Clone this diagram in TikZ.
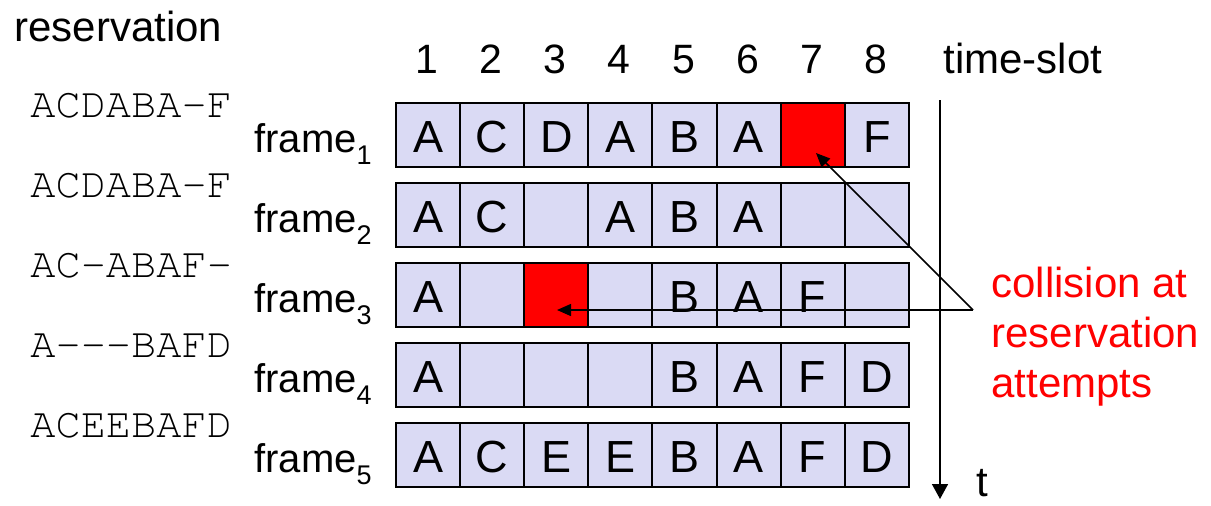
\documentclass[tikz,border=0pt]{standalone}
\usepackage[T1,TU]{fontenc}
\usepackage{fontspec}
\setmainfont{Liberation Sans}
\usetikzlibrary{arrows.meta}
\definecolor{cellfill}{RGB}{218,218,244}
\newcommand{\courierfont}{\fontencoding{T1}\fontfamily{pcr}\selectfont}
\newcommand{\fsub}[1]{\raisebox{-6pt}{\fontsize{13.5pt}{14pt}\selectfont #1}}
\begin{document}
\begin{tikzpicture}[x=0.5pt,y=-0.5pt,
  cell/.style={draw, line width=1pt, fill=cellfill, minimum width=32.05pt, minimum height=32pt,
    inner sep=0pt, text height=17pt, text depth=0pt, font=\fontsize{22.5pt}{27pt}\selectfont, anchor=north west},
  redcell/.style={cell, fill=red},
  sans/.style={inner sep=0pt, anchor=base west, font=\fontsize{21pt}{25pt}\selectfont},
  num/.style={inner sep=0pt, anchor=base, font=\fontsize{20.5pt}{25pt}\selectfont},
  mono/.style={inner sep=0pt, anchor=base west, font=\fontsize{21pt}{25pt}\courierfont},
  framelab/.style={inner sep=0pt, anchor=base west, font=\fontsize{20pt}{24pt}\selectfont},
  redlab/.style={inner sep=0pt, anchor=base west, text=red, font=\fontsize{21pt}{25pt}\selectfont},
  conn/.style={line width=0.75pt, -{Triangle[length=7pt,width=6pt]}},
  axis/.style={line width=0.75pt, -{Triangle[length=7.5pt,width=8pt]}}]
\useasboundingbox (0,0) rectangle (1211,505);

% headings
\node[sans] (hres) at (14,41) {reservation};
\node[num] (n1) at (427.05,73) {1};
\node[num] (n2) at (491.15,73) {2};
\node[num] (n3) at (555.25,73) {3};
\node[num] (n4) at (619.35,73) {4};
\node[num] (n5) at (683.45,73) {5};
\node[num] (n6) at (747.55,73) {6};
\node[num] (n7) at (811.65,73) {7};
\node[num] (n8) at (875.75,73) {8};
\node[sans] (hts) at (943,73) {time-slot};

% reservation strings
\node[mono] (r1) at (30,117) {ACDABA-F};
\node[mono] (r2) at (30,197) {ACDABA-F};
\node[mono] (r3) at (30,277) {AC-{}ABAF-};
\node[mono] (r4) at (30,357) {A-{}-{}-{}BAFD};
\node[mono] (r5) at (30,437) {ACEEBAFD};

% frame labels
\node[framelab] (f1) at (254,152) {frame\fsub{1}};
\node[framelab] (f2) at (254,232) {frame\fsub{2}};
\node[framelab] (f3) at (254,312) {frame\fsub{3}};
\node[framelab] (f4) at (254,392) {frame\fsub{4}};
\node[framelab] (f5) at (254,472) {frame\fsub{5}};

% row 1
\node[cell] (c1-1) at (395,102) {A};
\node[cell] (c1-2) at (459.1,102) {C};
\node[cell] (c1-3) at (523.2,102) {D};
\node[cell] (c1-4) at (587.3,102) {A};
\node[cell] (c1-5) at (651.4,102) {B};
\node[cell] (c1-6) at (715.5,102) {A};
\node[redcell] (c1-7) at (779.6,102) {};
\node[cell] (c1-8) at (843.7,102) {F};
% row 2
\node[cell] (c2-1) at (395,182) {A};
\node[cell] (c2-2) at (459.1,182) {C};
\node[cell] (c2-3) at (523.2,182) {};
\node[cell] (c2-4) at (587.3,182) {A};
\node[cell] (c2-5) at (651.4,182) {B};
\node[cell] (c2-6) at (715.5,182) {A};
\node[cell] (c2-7) at (779.6,182) {};
\node[cell] (c2-8) at (843.7,182) {};
% row 3
\node[cell] (c3-1) at (395,262) {A};
\node[cell] (c3-2) at (459.1,262) {};
\node[redcell] (c3-3) at (523.2,262) {};
\node[cell] (c3-4) at (587.3,262) {};
\node[cell] (c3-5) at (651.4,262) {B};
\node[cell] (c3-6) at (715.5,262) {A};
\node[cell] (c3-7) at (779.6,262) {F};
\node[cell] (c3-8) at (843.7,262) {};
% row 4
\node[cell] (c4-1) at (395,342) {A};
\node[cell] (c4-2) at (459.1,342) {};
\node[cell] (c4-3) at (523.2,342) {};
\node[cell] (c4-4) at (587.3,342) {};
\node[cell] (c4-5) at (651.4,342) {B};
\node[cell] (c4-6) at (715.5,342) {A};
\node[cell] (c4-7) at (779.6,342) {F};
\node[cell] (c4-8) at (843.7,342) {D};
% row 5
\node[cell] (c5-1) at (395,422) {A};
\node[cell] (c5-2) at (459.1,422) {C};
\node[cell] (c5-3) at (523.2,422) {E};
\node[cell] (c5-4) at (587.3,422) {E};
\node[cell] (c5-5) at (651.4,422) {B};
\node[cell] (c5-6) at (715.5,422) {A};
\node[cell] (c5-7) at (779.6,422) {F};
\node[cell] (c5-8) at (843.7,422) {D};

% time axis
\coordinate (ttop) at (940,100);
\coordinate (tbot) at (940,499);
\draw[axis] (ttop) -- (tbot);
\node[sans] (tl) at (976,496) {t};

% collision label
\node[redlab] (l1) at (991,297) {collision at};
\node[redlab] (l2) at (991,347) {reservation};
\node[redlab] (l3) at (991,397) {attempts};

\coordinate (apex) at (973,310);
\coordinate (tip1) at (816,153);
\coordinate (tip3) at (557,310);
\draw[conn] (apex) -- (tip1);
\draw[conn] (apex) -- (tip3);
\end{tikzpicture}
\end{document}
